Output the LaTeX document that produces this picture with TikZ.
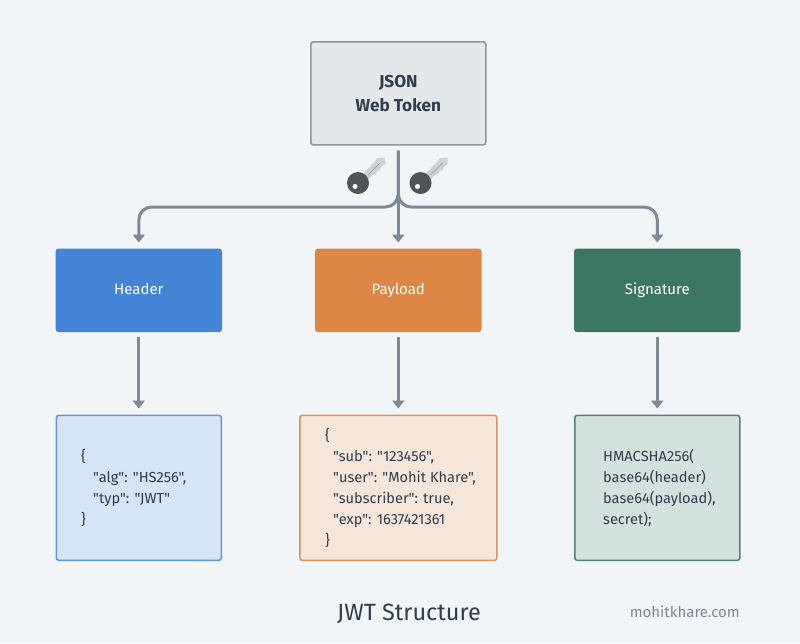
\documentclass[tikz,border=0pt]{standalone}
\usepackage{fontspec}
\setmainfont{Fira Sans}
\newfontfamily\codef{Fira Sans}
\usetikzlibrary{arrows.meta}
\definecolor{bgc}{HTML}{F2F5F8}
\definecolor{ink}{HTML}{2F3E4E}
\definecolor{linec}{HTML}{7B8A99}
\definecolor{tokfill}{HTML}{E4E7EA}
\definecolor{tokline}{HTML}{8A97A3}
\definecolor{cblue}{HTML}{4484D6}
\definecolor{corange}{HTML}{DC8746}
\definecolor{cgreen}{HTML}{3B7763}
\definecolor{lblue}{HTML}{D6E5F5}
\definecolor{lorange}{HTML}{F6E6DA}
\definecolor{lgreen}{HTML}{D3E2DF}
\definecolor{keydark}{HTML}{505357}
\definecolor{keylight}{HTML}{CFD1D2}
\tikzset{
  x=1pt,y=-1pt,
  box/.style={draw,line width=1.6pt,rounded corners=2.5pt,inner sep=0pt,anchor=north west},
  headbox/.style={box,fill=#1,draw=#1,minimum height=82pt,minimum width=165pt,text=white,text height=10.5pt,text depth=3pt,font=\fontsize{15}{18}\selectfont},
  detailbox/.style={box,minimum height=145pt},
  code/.style={anchor=west,align=left,inner sep=0pt,text=ink,font=\codef\fontsize{14.6}{21}\selectfont},
  conn/.style={draw=linec,line width=3pt,-{Triangle[length=8pt,width=12pt]},shorten <=5pt,shorten >=6pt},
  keyhead/.style={fill=keydark},
  keyblade/.style={fill=keylight},
  pics/jwtkey/.style={code={
    \fill[keyblade] (5,-9) -- (20,-25) -- (27,-25.5) -- (27,-19) -- (23,-16) -- (22,-13) -- (19,-12) -- (18,-9) -- (15,-8.5) -- (10,-3) -- cycle;
    \draw[keydark!50!keylight,line width=.6pt] (10,-8) -- (22,-20);
    \fill[keyhead] (0,0) circle (11);
    \fill[white] (-3,3.5) circle (2.5);
  }},
}
\begin{document}
\begin{tikzpicture}
\useasboundingbox (0,0) rectangle (800,643);
\fill[bgc] (0,0) rectangle (800,643);
\node[box,fill=tokfill,draw=tokline,minimum width=175pt,minimum height=103pt,align=center,text=ink,font=\bfseries\fontsize{17.2}{24}\selectfont] (token) at (310,41) {JSON\\Web Token};
\node[headbox=cblue] (header) at (55.5,248.5) {Header};
\node[headbox=corange] (payload) at (315,248.5) {Payload};
\node[headbox=cgreen] (signature) at (574,248.5) {Signature};
\node[detailbox,fill=lblue,draw=cblue!85!white,minimum width=165pt] (headerd) at (55.5,414.5) {};
\node[detailbox,fill=lorange,draw=corange!90!white,minimum width=197pt] (payloadd) at (299,414.5) {};
\node[detailbox,fill=lgreen,draw=cgreen!90!white,minimum width=165pt] (signatured) at (574,414.5) {};
\node[code] (headert) at (81,488) {\{\\\hspace*{12pt}"alg": "HS256",\\\hspace*{12pt}"typ": "JWT"\\\}};
\node[code] (payloadt) at (325,488) {\{\\\hspace*{8pt}"sub": "123456",\\\hspace*{8pt}"user": "Mohit Khare",\\\hspace*{8pt}"subscriber": true,\\\hspace*{8pt}"exp": 1637421361\\\}};
\node[code] (signaturet) at (603,488) {HMACSHA256(\\base64(header)\\base64(payload),\\secret);};
\draw[conn] (token.south) -- (payload.north);
\draw[conn,rounded corners=13pt] (token.south) |- (265,207) -| (header.north);
\draw[conn,rounded corners=13pt] (token.south) |- (530,207) -| (signature.north);
\draw[conn] (header.south) -- (headerd.north);
\draw[conn] (payload.south) -- (payload.south |- payloadd.north);
\draw[conn] (signature.south) -- (signatured.north);
\pic at (358,183) {jwtkey};
\pic at (420.5,183) {jwtkey};
\node[text=ink,font=\fontsize{23.5}{26}\selectfont] (title) at (409,613.5) {JWT Structure};
\node[anchor=east,inner sep=0pt,text=linec,font=\fontsize{15}{18}\selectfont] (site) at (740,612) {mohitkhare.com};
\end{tikzpicture}
\end{document}
